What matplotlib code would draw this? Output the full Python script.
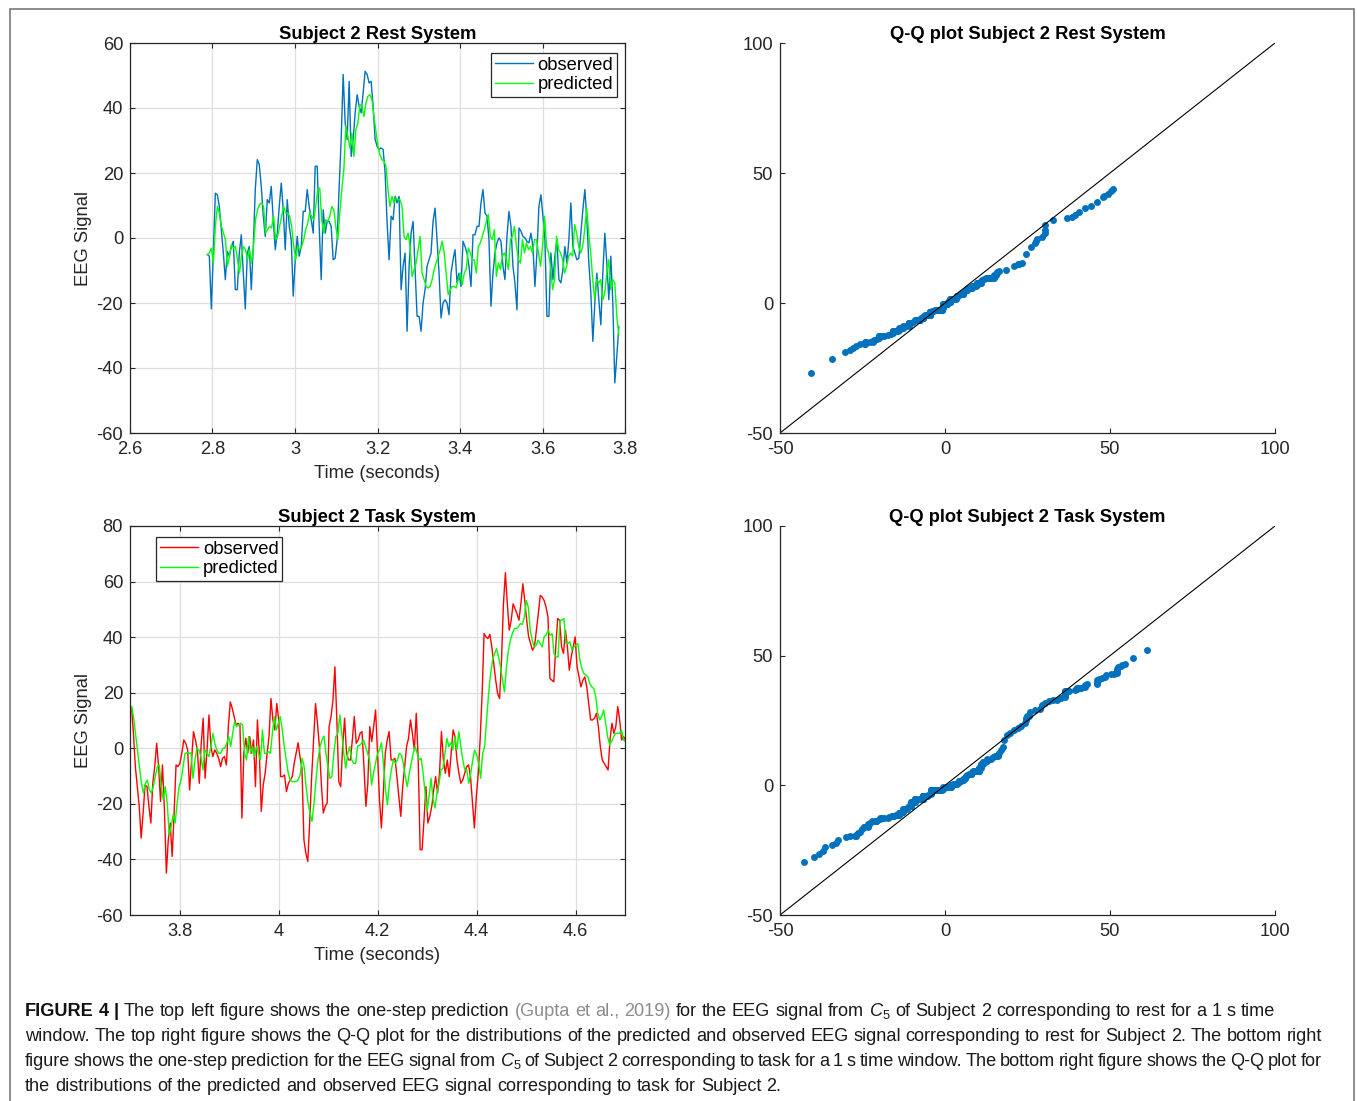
import numpy as np
import matplotlib
matplotlib.use("Agg")
import matplotlib.pyplot as plt
from matplotlib.transforms import IdentityTransform
from matplotlib.patches import Rectangle
from matplotlib.ticker import FuncFormatter

# ---------------- data ----------------
rest_t_start, rest_t_end = 2.7875, 3.785
task_t_start, task_t_end = 3.703, 4.701

rest_observed = [
    -5.1, -5.6, -21.8, -4.6, 13.8, 13.3, 9.7, 2.6, -4.6, -12.8,
    -4.1, -5.6, -2.6, -1.0, -15.9, -15.9, -4.6, 1.0, -10.8, -21.8,
    -4.6, -2.6, -15.9, -2.6, 14.9, 24.1, 22.6, 15.9, 6.7, 0.5,
    11.8, 10.8, 15.9, 5.6, -3.6, 1.5, 9.7, 16.9, 8.7, -3.6,
    11.8, 3.6, -0.5, -17.9, -6.7, 0.5, -5.6, -2.6, 8.2, 8.2,
    14.9, 9.7, 5.6, 1.5, 22.1, 22.1, 3.6, -12.8, 8.7, 1.5,
    5.1, 5.1, 3.6, -6.7, -6.2, -0.5, 15.9, 30.3, 50.3, 35.4,
    30.3, 48.2, 25.1, 30.3, 38.5, 44.1, 40.5, 38.5, 44.6, 51.3,
    50.3, 47.7, 48.2, 40.5, 30.3, 28.2, 27.2, 27.7, 27.2, 20.0,
    4.6, -6.7, 6.7, 5.6, 12.8, 10.8, 12.8, -15.9, -8.7, -4.6,
    -28.7, -8.7, 1.5, 5.1,
    -9.7, -24.1, -24.1, -28.7, -20.0, -15.9, -8.7, -6.7, -4.6, 5.1,
    9.2, -0.5, -10.8, -24.6, -20.0, -19.0, -20.0, -23.6, -10.8, -6.7,
    -3.6, -13.8, -10.8, -14.9, -1.0, -2.6, -4.6, -8.7, -14.9, 1.0,
    1.0, 3.6, 3.6, 10.8, 14.9, 7.7, 6.7, -0.5, -21.0, -10.8,
    -4.6, -1.5, 0.0, -1.0, -8.7, -12.8, 0.5, 8.2, 3.6, -8.7,
    -13.8, -22.1, 3.1, 2.1, 0.5, 0.0, -1.0, -1.5, 1.5, -2.6,
    -14.9, -4.6, 9.7, 13.3, 6.7, -0.5, -24.1, -24.1, -4.6, -12.8,
    -5.6, -0.5, -12.8, -13.8, -9.7, -2.6, -7.7, -0.5, 10.8, -2.6,
    -4.6, -6.7, -6.2, 1.5, 8.7, 14.9, 5.6, -7.7, -16.9, -31.8,
    -20.0, -10.8, -19.0, -26.7, -10.8, 1.5, -7.7, -19.0, -5.6, -20.0,
    -44.6, -36.4, -27.2,
]

rest_predicted = [
    -5.1, -4.6, -3.1, -7.7, 3.6, 9.7, 7.7, 3.6, 1.5, -0.5,
    -8.7, -5.6, -2.1, -3.1, -2.6, -6.7, -10.8, -5.6, -2.6, -3.6,
    -6.7, -3.6, -7.7, -2.6, 5.6, 8.7, 10.3, 10.8, 9.7, 1.5,
    2.6, 3.6, 3.1, 6.7, -0.5, 0.5, 3.6, 6.7, 9.7, 7.7,
    7.7, 6.7, 3.6, -2.6, -6.7, -2.6, -3.6, -2.6, -0.5, 2.6,
    4.6, 7.7, 6.7, 5.6, 9.7, 14.9, 15.4, 5.6, 1.5, 5.6,
    5.1, 6.7, 9.7, 8.7, 3.6, -0.5, 7.7, 14.9, 21.0, 34.4,
    31.3, 27.7, 32.3, 25.1, 33.3, 35.4, 41.0, 40.5, 37.4, 41.5,
    43.6, 44.1, 42.6, 37.4, 32.8, 28.2, 25.6, 24.1, 23.6, 22.1,
    14.9, 9.7, 12.8, 10.8, 12.3, 11.8, 11.8, 9.7, 0.5, -0.5,
    1.5, -2.6, -11.8, -9.7, -7.7,
    -3.6, 0.5, -10.8, -12.8, -14.9, -15.4, -14.9, -12.8, -9.7, -7.7,
    -5.6, -3.6, -1.0, -4.6, -10.8, -17.4, -15.9, -14.9, -14.9, -15.4,
    -12.8, -10.8, -14.4, -10.8, -9.7, -3.1, -4.6, -6.7, -6.7, -10.8,
    -2.6, -1.5, 0.5, 2.6, 5.1, 7.2, 0.5, -0.5, 2.6, -11.8,
    -7.7, -9.7, -5.6, -4.6, -6.7, -9.7, -0.5, 0.5, 3.6, -2.6,
    -6.7, -7.7, -0.5, -4.6, -1.5, -3.6, -2.6, -4.6, -0.5, -0.5,
    -4.6, -8.7, -2.6, 6.7, -2.6, -4.6, -8.7, -15.9, -12.8, 0.5,
    -3.6, -4.6, -6.7, -10.8, -8.7, -5.6, -4.6, -5.6, 4.1, 1.5,
    -2.6, -4.6, -2.6, 2.6, 9.2, 1.5, -4.6, -12.8, -19.0, -12.8,
    -13.8, -12.8, -19.0, -16.9, -10.8, -6.7, -15.9, -12.8, -13.8, -24.1,
    -29.7,
]

task_observed = [
    15.0, 5.4, -6.6, -13.8, -20.9, -32.3, -23.3, -13.2, -13.8, -20.9,
    -26.9, -12.6, -6.6, 1.8, -6.6, -19.1, -6.0, -22.1, -44.9, -32.9,
    -26.9, -38.9, -23.3, -6.0, -6.6, -5.4, -1.8, 3.0, 1.8, -0.6,
    -15.0, -4.2, 6.0, 3.0, -0.6, -12.6, 1.8, 10.8, -10.8, -0.6,
    12.0, 0.6, -3.0, -0.6, -1.8, -3.6, -6.6, -3.6, -3.0, -6.0,
    7.8, 16.7, 14.4, 11.4, 8.4, 9.0, 8.4, -25.1, -1.8, 3.6,
    -1.8, 4.2, -1.8, 3.0, -13.8, 10.2, -1.8, -22.7, -13.2, -9.0,
    -1.8, 4.2, 17.9, 10.2, 6.6, 16.1, 10.2, -10.2, -10.2, -9.6,
    -15.6, -12.6, -11.4, -10.2, -5.4, -1.8, 2.0, -3.2, -7.2, -32.9,
    -37.7, -40.7, -26.3, -10.2, 3.0, 16.1, 9.0, 0.6, -12.6, -23.3,
    -20.9, -19.7, 7.8, 11.4, 17.3, 29.3, 10.2, -12.0, -13.8, 0.6,
    10.8, -1.8, -4.2, -4.2, 3.0, 11.4, 1.8, 3.0, 5.4, 6.0,
    -6.6, -20.9, -12.6,
    7.8, 2.4, 7.8, 13.8, -1.8, -18.5, -28.7, -16.1, -1.8, 3.0,
    6.0, -4.2, -4.2, -3.6, -10.2, -17.3, -24.5, -13.8, -6.6, 0.6,
    3.6, 10.2, 5.4, -0.6, 12.6, -4.2, -36.5, -36.5, -25.7, -13.8,
    -26.9, -24.5, -20.9, -15.0, -10.2, -16.1, -9.0, 6.0, -4.2, -9.0,
    -4.2, -10.2, -1.8, 6.6, 4.2, -4.2, -9.0, -12.6, -11.4, -9.0,
    -6.6, -6.0, -10.2, -19.7, -28.7, -17.3, -9.0, 3.6, 19.7, 41.3,
    40.1, 39.5, 41.0, 36.5, 30.5, 24.5, 19.7, 17.9, 31.7, 52.0,
    63.2, 52.0, 42.5, 46.1, 52.0, 50.2, 48.4, 46.1, 52.0, 59.2,
    53.2, 46.1, 40.1, 37.7, 35.3, 36.5, 42.5, 48.4, 55.0, 54.4,
    53.2, 50.8, 47.2, 25.1, 24.5, 23.9, 36.5, 46.7, 46.1, 36.5,
    34.1, 42.5, 36.5, 28.1, 32.9, 36.5, 40.1, 29.3, 25.7, 22.1,
    24.5, 25.7, 22.1, 16.1, 10.2, 10.2, 10.8, 12.6, 7.8, 0.6,
    -4.2, -5.4, -6.6, -7.8, 3.0, 9.0, 5.4, 7.8, 15.0, 10.2,
    3.0, 4.2, 3.0,
]

task_predicted = [
    15.0, 11.4, 5.4, -0.6, -6.6, -12.6, -16.1, -12.6, -11.4, -15.0,
    -16.1, -13.8, -10.2, -6.6, -6.0, -13.8, -18.5, -13.8, -19.7, -31.1,
    -28.1, -23.9, -26.9, -19.7, -13.8, -11.4, -6.6, -1.8, -1.6, -1.8,
    -1.6, -10.8, -4.2, 0.0, -0.6, -3.0, -7.8, -0.6, -1.8, -3.0,
    0.6, 5.4, 1.8, -0.6, -1.8, -1.8, 0.0, 0.0, 1.8, 4.2,
    0.6, 5.4, 9.6, 7.8, 8.4, 9.0, 8.4, -1.8, -4.2, 4.2,
    -1.8, 0.6, -3.0, 0.6, -1.8, -4.2, 6.6, -1.8, -1.8, -1.2,
    -1.8, 5.4, 11.4, 6.6, 9.0, 11.4, 6.6, 0.6, -4.2, -9.0,
    -11.4, -12.0, -12.0, -12.0, -11.4, -9.6, -3.6, -6.6, -13.8, -19.7,
    -23.3, -26.3, -19.7, -11.4, -4.2, 0.6, 3.0, 4.4, -1.8, -6.6,
    -10.8, -10.2, -1.8, 4.2, 5.4, 12.0, 5.4, -1.8, -7.2, -1.8,
    0.6, -4.2, -5.4, -5.4, 0.8, 1.1, 1.8, 3.0, 0.6, -1.8,
    -4.2,
    -13.2, -9.0, -5.4, -1.8, -0.6, 2.0, -5.4, -15.0, -20.3, -12.6,
    -7.8, -4.2, -5.4, -4.2, -1.8, -2.4, -5.4, -10.2, -13.8, -9.0,
    -5.4, -1.8, 0.6, -1.8, -4.2, -3.6, -9.0, -16.1, -22.7, -17.3,
    -10.8, -18.5, -21.5, -16.1, -12.6, -7.8, -7.2, -1.8, 3.6, 0.6,
    2.0, -0.6, 4.2, -0.6, 6.0, 0.6, -4.2, -7.8, -7.8, -12.6,
    -9.0, -4.2, -0.6, -2.4, -5.4, -10.8, -1.8, 0.6, 10.2, 19.7,
    26.9, 31.7, 34.1, 35.9, 32.9, 29.3, 24.5, 20.3, 29.3, 35.3,
    38.9, 41.3, 43.1, 43.1, 43.7, 44.9, 44.6, 47.2, 53.2, 50.8,
    42.5, 38.9, 36.5, 37.1, 38.9, 37.7, 36.5, 40.1, 40.7, 42.5,
    40.7, 41.3, 34.1, 32.9, 32.9, 46.1, 46.1, 46.7, 37.7, 37.7,
    38.3, 35.3, 36.5, 37.1, 37.7, 31.7, 28.7, 26.9, 26.3, 25.7,
    23.3, 22.1, 21.5, 18.5, 12.6, 10.2, 11.4, 13.8, 9.0, 4.2,
    1.2, 2.4, 4.2, 5.4, 5.4, 5.4, 6.6, 3.0, 2.4,
]

titles = ["Subject 2 Rest System", "Q-Q plot Subject 2 Rest System",
          "Subject 2 Task System", "Q-Q plot Subject 2 Task System"]
legend_labels = ["observed", "predicted"]
rest_xticks = [2.6, 2.8, 3.0, 3.2, 3.4, 3.6, 3.8]
rest_yticks = [-60, -40, -20, 0, 20, 40, 60]
task_xticks = [3.8, 4.0, 4.2, 4.4, 4.6]
task_yticks = [-60, -40, -20, 0, 20, 40, 60, 80]
qq_ticks = [-50, 0, 50, 100]

caption_lines = [
    [("FIGURE 4 |", "bold"), ("The top left figure shows the one-step prediction", "normal"),
     ("(Gupta et al., 2019)", "gray"), ("for the EEG signal from", "normal"), ("$C_5$", "normal"),
     ("of Subject 2 corresponding to rest for a 1 s time", "normal")],
    [("window. The top right figure shows the Q-Q plot for the distributions of the predicted "
      "and observed EEG signal corresponding to rest for Subject 2. The bottom right", "normal")],
    [("figure shows the one-step prediction for the EEG signal from", "normal"), ("$C_5$", "normal"),
     ("of Subject 2 corresponding to task for a 1 s time window. The bottom right figure shows "
      "the Q-Q plot for", "normal")],
    [("the distributions of the predicted and observed EEG signal corresponding to task for "
      "Subject 2.", "normal")],
]

# ---------------- style ----------------
plt.rcParams["font.family"] = ["Liberation Sans", "DejaVu Sans"]
plt.rcParams["axes.unicode_minus"] = False
plt.rcParams["mathtext.fontset"] = "custom"
plt.rcParams["mathtext.it"] = "Liberation Sans:italic"
plt.rcParams["mathtext.rm"] = "Liberation Sans"
plt.rcParams["mathtext.bf"] = "Liberation Sans:bold"

W, H = 1357, 1101
DPI = 100
FS = 13.2
AXC = "#262626"
C_BLUE = "#0072BD"
C_GREEN = "#00FF00"
C_RED = "#FF0000"

fig = plt.figure(figsize=(W / DPI, H / DPI), dpi=DPI)
fig.patch.set_facecolor("white")


def fax(left, top, width, height):
    return fig.add_axes([left / W, (H - top - height) / H, width / W, height / H])


ax_rest = fax(130, 43, 495, 390)
ax_qq_rest = fax(780, 43, 495, 390)
ax_task = fax(130, 526, 495, 389)
ax_qq_task = fax(780, 526, 495, 389)

fmt = FuncFormatter(lambda v, _: f"{round(v, 6):g}")


def style_ts(ax):
    for s in ax.spines.values():
        s.set_color(AXC)
        s.set_linewidth(0.9)
    ax.tick_params(which="both", direction="in", length=3.6, width=0.8,
                   top=True, right=True, colors=AXC, labelsize=FS, labelcolor=AXC)
    ax.tick_params(axis="x", pad=6)
    ax.tick_params(axis="y", pad=5)
    ax.grid(True, color="#dedede", linewidth=0.9)
    ax.set_axisbelow(True)
    ax.xaxis.set_major_formatter(fmt)


def style_qq(ax):
    for k in ("top", "right"):
        ax.spines[k].set_visible(False)
    for k in ("left", "bottom"):
        ax.spines[k].set_color(AXC)
        ax.spines[k].set_linewidth(0.9)
    ax.tick_params(direction="in", length=3.6, width=0.8, colors=AXC,
                   labelsize=FS, labelcolor=AXC)
    ax.tick_params(axis="x", pad=6)
    ax.tick_params(axis="y", pad=5)


def qq(obs, pred):
    x = np.sort(np.asarray(obs, float))
    y = np.sort(np.asarray(pred, float))
    n = min(len(x), len(y))
    p = (np.arange(1, n + 1) - 0.5) / n
    return np.quantile(x, p), np.quantile(y, p)


def draw_ts(ax, t0, t1, obs, pred, c_obs, xlim, ylim, xticks, yticks, title,
            leg_loc, leg_anchor):
    t_obs = np.linspace(t0, t1, len(obs))
    t_pred = np.linspace(t0, t1, len(pred))
    ax.plot(t_obs, obs, color=c_obs, lw=1.0, label=legend_labels[0])
    ax.plot(t_pred, pred, color=C_GREEN, lw=1.0, label=legend_labels[1])
    ax.set_xlim(*xlim)
    ax.set_ylim(*ylim)
    ax.set_xticks(xticks)
    ax.set_yticks(yticks)
    style_ts(ax)
    ax.set_title(title, fontsize=FS, fontweight="bold", pad=3, color="black")
    ax.set_xlabel("Time (seconds)", fontsize=FS, color=AXC, labelpad=5)
    ax.set_ylabel("EEG Signal", fontsize=FS, color=AXC, labelpad=3)
    leg = ax.legend(loc=leg_loc, bbox_to_anchor=leg_anchor, borderaxespad=0,
                    fancybox=False, framealpha=1, edgecolor=AXC, fontsize=FS,
                    handlelength=2.1, handletextpad=0.25, labelspacing=0.15,
                    borderpad=0.2)
    leg.get_frame().set_linewidth(0.9)


def draw_qq(ax, obs, pred, title):
    qx, qy = qq(obs, pred)
    ax.plot(qx, qy, linestyle="none", marker="o", ms=5.0, mfc=C_BLUE,
            mec=C_BLUE, mew=0)
    ax.axline((0, 0), slope=1, color="black", lw=0.8)
    ax.set_xlim(-50, 100)
    ax.set_ylim(-50, 100)
    ax.set_xticks(qq_ticks)
    ax.set_yticks(qq_ticks)
    style_qq(ax)
    ax.set_title(title, fontsize=FS, fontweight="bold", pad=3, color="black")


draw_ts(ax_rest, rest_t_start, rest_t_end, rest_observed, rest_predicted, C_BLUE,
        (2.6, 3.8), (-60, 60), rest_xticks, rest_yticks, titles[0],
        "upper right", (1 - 8 / 495, 1 - 10 / 390))
draw_qq(ax_qq_rest, rest_observed, rest_predicted, titles[1])
draw_ts(ax_task, task_t_start, task_t_end, task_observed, task_predicted, C_RED,
        (3.7, 4.7), (-60, 80), task_xticks, task_yticks, titles[2],
        "upper left", (26 / 495, 1 - 11 / 389))
draw_qq(ax_qq_task, task_observed, task_predicted, titles[3])

# ---------------- frame ----------------
fig.add_artist(Rectangle((9.5, -20), 1354 - 9.5, (H - 8.5) + 20, transform=IdentityTransform(),
                         fill=False, edgecolor="#6e6e6e", lw=1.1))

# ---------------- caption ----------------
CAP_FS = 13.1
styles = {
    "normal": dict(color="#1a1a1a"),
    "bold": dict(color="#111111", fontweight="bold"),
    "gray": dict(color="#8c8c8c"),
}
renderer = fig.canvas.get_renderer()


def measure(s, **kw):
    t = fig.text(0, 0, s, transform=IdentityTransform(), fontsize=CAP_FS, **kw)
    w = t.get_window_extent(renderer).width
    t.remove()
    return w


space_w = measure("n n", **styles["normal"]) - measure("nn", **styles["normal"])


def draw_caption_line(segments, baseline_top, x_left, x_right=None):
    words = []
    for text, st in segments:
        if text.startswith("$"):
            words.append((text, st))
        else:
            for w in text.split(" "):
                if w:
                    words.append((w, st))
    arts, widths = [], []
    for w, st in words:
        a = fig.text(0, 0, w, transform=IdentityTransform(), fontsize=CAP_FS,
                     ha="left", va="baseline", **styles[st])
        arts.append(a)
        widths.append(a.get_window_extent(renderer).width)
    if x_right is None:
        gap = space_w
    else:
        gap = (x_right - x_left - sum(widths)) / (len(arts) - 1)
    x = x_left
    y = H - baseline_top
    for a, w in zip(arts, widths):
        a.set_position((x, y))
        x += w + gap


draw_caption_line(caption_lines[0], 1016, 25, None)
draw_caption_line(caption_lines[1], 1041, 25, 1322)
draw_caption_line(caption_lines[2], 1066, 25, 1322)
draw_caption_line(caption_lines[3], 1091, 25, None)

fig.savefig("out.png", dpi=DPI, facecolor="white")
